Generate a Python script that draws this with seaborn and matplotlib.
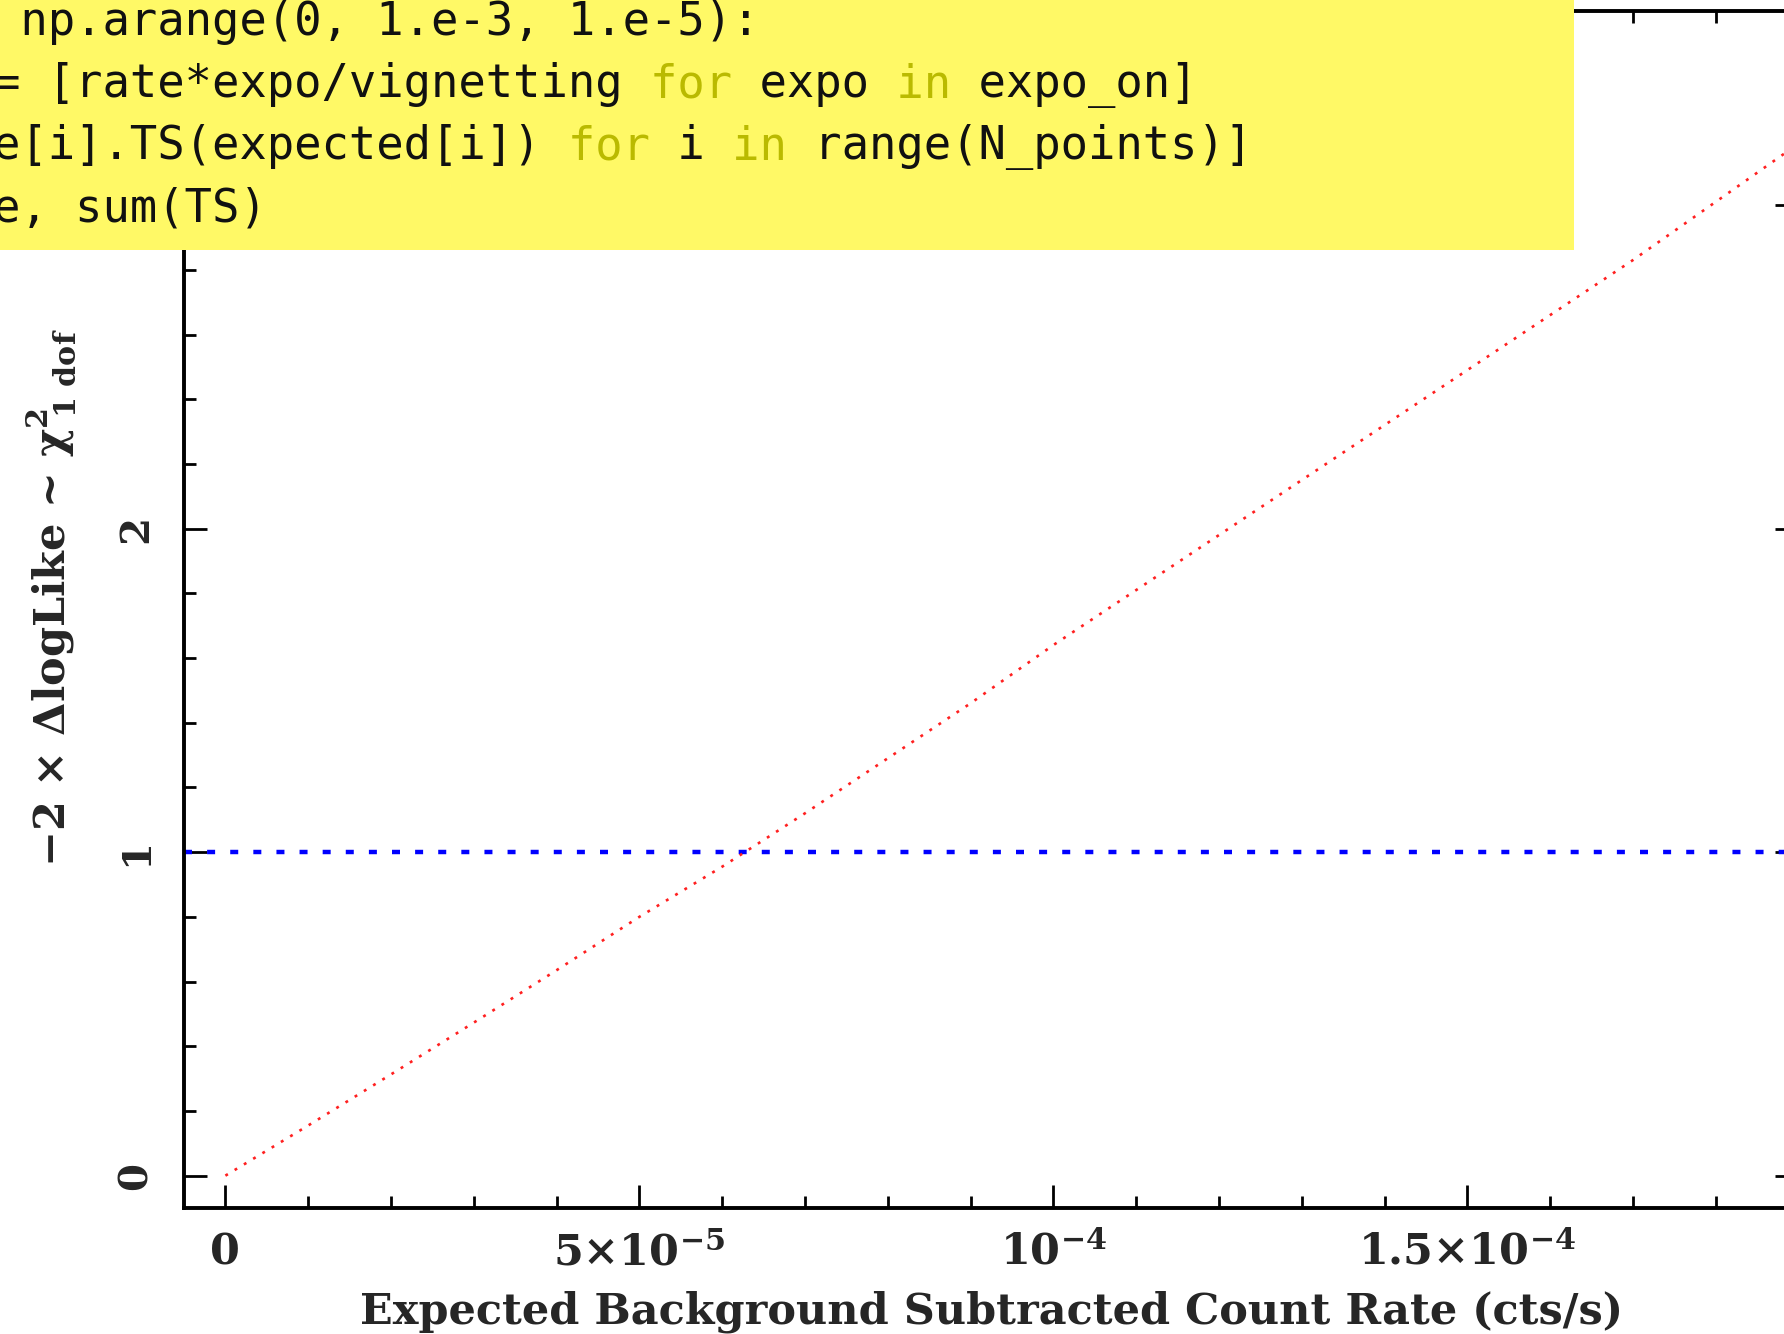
import re
import numpy as np
import pandas as pd
import matplotlib
matplotlib.use("Agg")
import matplotlib.pyplot as plt
from matplotlib.patches import Rectangle
from matplotlib.ticker import MultipleLocator
import seaborn as sns

# Summed test statistic versus trial background-subtracted count rate
rate = [0.0, 1e-5, 2e-5, 3e-5, 4e-5, 5e-5, 6e-5, 7e-5, 8e-5, 9e-5,
        1.0e-4, 1.1e-4, 1.2e-4, 1.3e-4, 1.4e-4, 1.5e-4, 1.6e-4, 1.7e-4,
        1.8e-4, 1.9e-4]
ts_sum = [0.0, 0.155, 0.313, 0.473, 0.635, 0.80, 0.955, 1.12, 1.29, 1.46,
          1.64, 1.81, 1.98, 2.15, 2.32, 2.49, 2.66, 2.83, 3.01, 3.19]

# 1-sigma level for one degree of freedom
threshold = 1.0

xtick_values = [0.0, 5e-5, 1e-4, 1.5e-4]
xtick_labels = ["0", r"5×10$^{-5}$", r"10$^{-4}$", r"1.5×10$^{-4}$"]
ytick_values = [0, 1, 2, 3]
ytick_labels = ["0", "1", "2", "3"]

x_label = "Expected Background Subtracted Count Rate (cts/s)"
y_label = r"−2 × ΔlogLike ~ $\chi^{2}_{\ 1\ \mathrm{dof}}$"

code_lines = [
    " np.arange(0, 1.e-3, 1.e-5):",
    "= [rate*expo/vignetting for expo in expo_on]",
    "e[i].TS(expected[i]) for i in range(N_points)]",
    "e, sum(TS)",
]
keywords = ["for", "in"]

sns.set_theme(style="ticks")
plt.rcParams["font.family"] = ["DejaVu Serif"]
plt.rcParams["font.weight"] = "bold"
plt.rcParams["mathtext.fontset"] = "custom"
plt.rcParams["mathtext.rm"] = "DejaVu Serif:bold"
plt.rcParams["mathtext.it"] = "DejaVu Serif:bold:italic"
plt.rcParams["mathtext.bf"] = "DejaVu Serif:bold"
plt.rcParams["mathtext.default"] = "rm"
plt.rcParams["axes.unicode_minus"] = True

W, H = 1784, 1334
fig = plt.figure(figsize=(W / 100, H / 100), dpi=100)
fig.patch.set_facecolor("white")

left_px, right_px, bottom_px, top_px = 184, 1798.5, 1208, 11
ax = fig.add_axes([left_px / W, (H - bottom_px) / H,
                   (right_px - left_px) / W, (bottom_px - top_px) / H])
ax.set_facecolor("white")

df = pd.DataFrame({"rate": rate, "ts": ts_sum})
sns.lineplot(data=df, x="rate", y="ts", ax=ax, color="#ff2020",
             linewidth=1.9, linestyle=(0, (1.1, 3.0)), zorder=3)
ax.axhline(threshold, color="#0000ff", linewidth=3.2,
           linestyle=(0, (1.8, 3.4)), zorder=2)

ax.set_xlim(-5e-6, 1.9e-4)
ax.set_ylim(-0.1, 3.6)

ax.set_xticks(xtick_values, xtick_labels)
ax.set_yticks(ytick_values, ytick_labels)
ax.xaxis.set_minor_locator(MultipleLocator(1e-5))
ax.yaxis.set_minor_locator(MultipleLocator(0.2))

for side in ["left", "right", "top", "bottom"]:
    ax.spines[side].set_visible(True)
    ax.spines[side].set_linewidth(2.8)
    ax.spines[side].set_color("black")

ax.tick_params(which="both", direction="in", top=True, right=True,
               color="black", width=2.0)
ax.tick_params(which="major", length=16.5)
ax.tick_params(which="minor", length=8.6)
ax.tick_params(axis="x", which="major", pad=41, labelsize=31)
ax.tick_params(axis="y", which="major", pad=21, labelsize=29)

for lab in ax.get_xticklabels():
    lab.set_verticalalignment("baseline")
    lab.set_fontweight("bold")
for lab in ax.get_yticklabels():
    lab.set_rotation(90)
    lab.set_verticalalignment("center")
    lab.set_fontweight("bold")

ax.set_xlabel(x_label, fontsize=31, fontweight="bold")
ax.xaxis.set_label_coords(0.5, -0.0961)
ax.xaxis.label.set_verticalalignment("baseline")

ax.set_ylabel(y_label, fontsize=31, fontweight="bold")
ax.yaxis.set_label_coords(-0.082, 0.51)
ax.yaxis.label.set_verticalalignment("center")

# Code snippet note pinned over the top-left corner
box_w, box_h = 1574, 250
fig.patches.append(Rectangle((0, 1 - box_h / H), box_w / W, box_h / H,
                             transform=fig.transFigure, facecolor="#fff966",
                             edgecolor="none", zorder=5))

kw_pat = re.compile(r"\b(" + "|".join(keywords) + r")\b")
baselines = [35, 97, 159, 222]
x0 = -7 / W
for line, base in zip(code_lines, baselines):
    plain = kw_pat.sub(lambda m: " " * len(m.group(0)), line)
    kw_only = [" "] * len(line)
    for m in kw_pat.finditer(line):
        kw_only[m.start():m.end()] = list(m.group(0))
    kw_only = "".join(kw_only)
    for s, col in ((plain, "#111111"), (kw_only, "#baba00")):
        fig.text(x0, 1 - base / H, s, family="DejaVu Sans Mono",
                 fontweight="normal", fontsize=32.8, color=col,
                 ha="left", va="baseline", zorder=6)

fig.savefig("out.png", dpi=100)
